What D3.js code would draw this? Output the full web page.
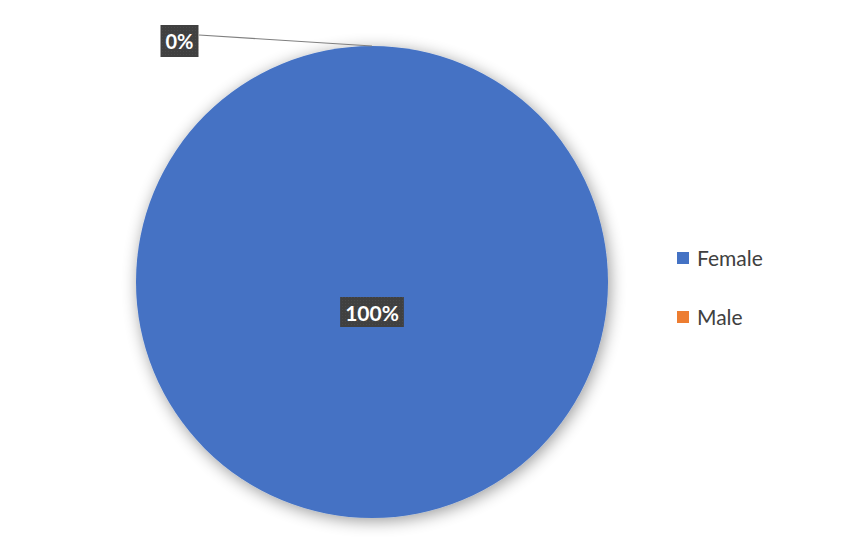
<!DOCTYPE html>
<html>
<head>
<meta charset="utf-8">
<script src="https://cdn.jsdelivr.net/npm/d3@7"></script>
<style>
  body { margin: 0; background: #fff; }
  svg { display: block; }
</style>
</head>
<body>
<div id="chart"></div>
<script>
// dati
const categories = ["Female", "Male"];
const values = [100, 0];
const colors = ["#4472C4", "#ED7D31"];

const W = 859, H = 555;
const cx = 372, cy = 282, radius = 236;
const font = "Lato, 'Open Sans', sans-serif";

const data = categories.map((c, i) => ({ name: c, value: values[i], color: colors[i] }));
const total = d3.sum(values);

const svg = d3.select("#chart").append("svg")
    .attr("width", W)
    .attr("height", H);

// ombra
const defs = svg.append("defs");
const f = defs.append("filter").attr("id", "shadow")
    .attr("x", "-20%").attr("y", "-20%").attr("width", "140%").attr("height", "140%");
f.append("feGaussianBlur").attr("in", "SourceAlpha").attr("stdDeviation", 8).attr("result", "b");
f.append("feOffset").attr("in", "b").attr("dx", 2).attr("dy", 3).attr("result", "o");
f.append("feComponentTransfer").attr("in", "o").attr("result", "s")
    .append("feFuncA").attr("type", "linear").attr("slope", 0.4);
const m = f.append("feMerge");
m.append("feMergeNode").attr("in", "s");
m.append("feMergeNode").attr("in", "SourceGraphic");

const pat = defs.append("pattern").attr("id", "dots")
    .attr("width", 3).attr("height", 3).attr("patternUnits", "userSpaceOnUse");
pat.append("rect").attr("width", 3).attr("height", 3).attr("fill", "#404040");
pat.append("rect").attr("width", 1).attr("height", 1).attr("fill", "#4a4a4a");

const g = svg.append("g").attr("transform", `translate(${cx},${cy})`);

const pie = d3.pie().value(d => d.value).sort(null);
const arc = d3.arc().innerRadius(0).outerRadius(radius);
const arcs = pie(data);

g.selectAll("path.slice")
    .data(arcs)
    .enter()
    .append("path")
    .attr("class", "slice")
    .attr("d", arc)
    .attr("fill", d => d.data.color)
    .attr("filter", "url(#shadow)");

// etichette
function pct(d) { return Math.round(d.data.value / total * 100) + "%"; }

function labelBox(x, y, text, size, h) {
    const t = g.append("text")
        .attr("x", x).attr("y", y)
        .attr("text-anchor", "middle")
        .attr("dominant-baseline", "central")
        .style("font-family", font)
        .style("font-weight", "bold")
        .style("font-size", size + "px")
        .attr("fill", "#fff")
        .text(text);
    const bb = t.node().getBBox();
    g.insert("rect", () => t.node())
        .attr("x", bb.x - 5).attr("y", y - h / 2)
        .attr("width", bb.width + 10).attr("height", h)
        .attr("fill", "url(#dots)");
    return bb;
}

arcs.forEach(d => {
    if (d.endAngle - d.startAngle > 0.01) {
        labelBox(0, 30, pct(d), 21, 30);
    } else {
        // fetta zero: etichetta esterna con linea guida
        const a = d.startAngle;
        const px = Math.sin(a) * radius, py = -Math.cos(a) * radius;
        const lx = px - 192.5, ly = py - 5;
        g.append("line")
            .attr("x1", lx + 19.5).attr("y1", ly - 6)
            .attr("x2", px).attr("y2", py)
            .attr("stroke", "#7f7f7f")
            .attr("stroke-width", 1.2);
        labelBox(lx, ly, pct(d), 20, 32);
    }
});

// legenda
const legend = svg.append("g").attr("transform", "translate(677,252)");
const li = legend.selectAll("g")
    .data(data)
    .enter()
    .append("g")
    .attr("transform", (d, i) => `translate(0,${i * 59})`);
li.append("rect")
    .attr("width", 12).attr("height", 12)
    .attr("fill", d => d.color);
li.append("text")
    .attr("x", 20).attr("y", 5)
    .attr("dominant-baseline", "central")
    .style("font-family", font)
    .style("font-size", "21px")
    .attr("fill", "#404040")
    .text(d => d.name);
</script>
</body>
</html>
